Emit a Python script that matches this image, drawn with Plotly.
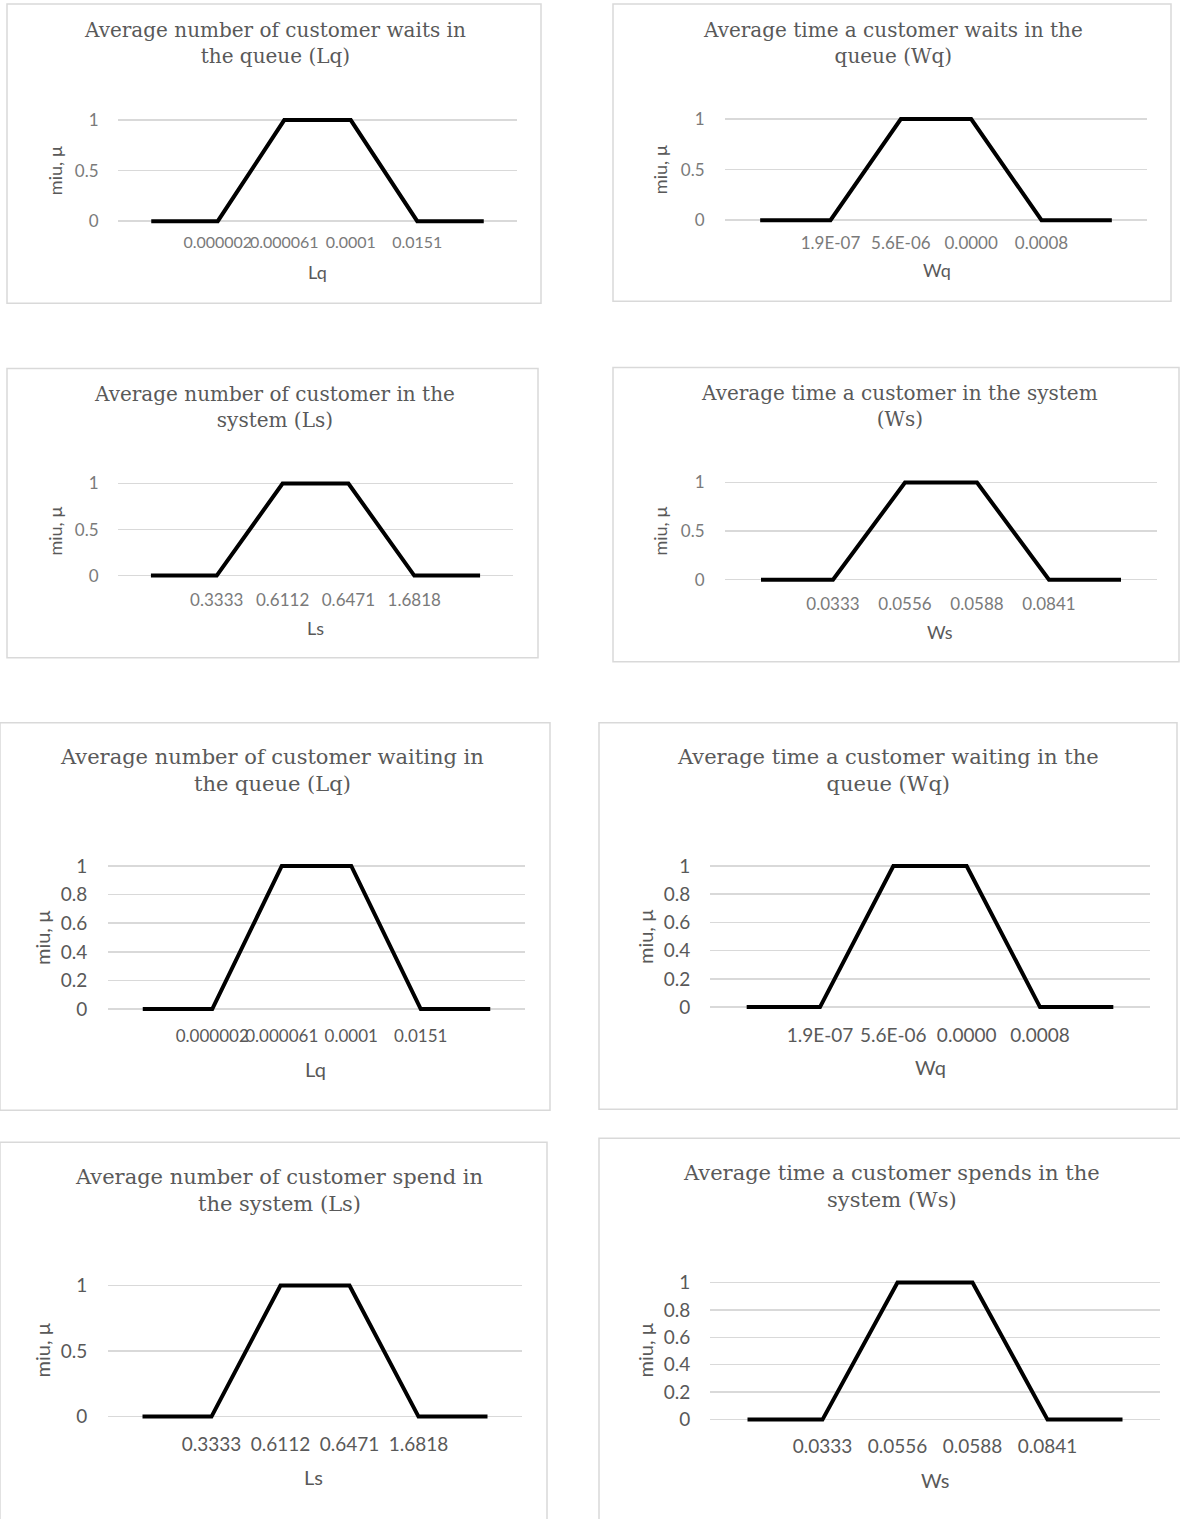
import plotly.graph_objects as go

# ---------------- data ----------------
lq_labels = ["0.000002", "0.000061", "0.0001", "0.0151"]
wq_labels = ["1.9E-07", "5.6E-06", "0.0000", "0.0008"]
ls_labels = ["0.3333", "0.6112", "0.6471", "1.6818"]
ws_labels = ["0.0333", "0.0556", "0.0588", "0.0841"]
mu_values = [0, 0, 1, 1, 0, 0]

titles = [
    ["Average number of customer waits in", "the queue (Lq)"],
    ["Average time a customer waits in the", "queue (Wq)"],
    ["Average number of customer in the", "system (Ls)"],
    ["Average time a customer in the system", "(Ws)"],
    ["Average number of customer waiting in", "the queue (Lq)"],
    ["Average time a customer waiting in the", "queue (Wq)"],
    ["Average number of customer spend in", "the system (Ls)"],
    ["Average time a customer spends in the", "system (Ws)"],
]
x_titles = ["Lq", "Wq", "Ls", "Ws", "Lq", "Wq", "Ls", "Ws"]
x_labels = [lq_labels, wq_labels, ls_labels, ws_labels,
            lq_labels, wq_labels, ls_labels, ws_labels]
y_ticks_half = [0, 0.5, 1]
y_ticks_fifth = [0, 0.2, 0.4, 0.6, 0.8, 1]
y_ticks = [y_ticks_half, y_ticks_half, y_ticks_half, y_ticks_half,
           y_ticks_fifth, y_ticks_fifth, y_ticks_half, y_ticks_fifth]
y_title = "miu, \u00b5"

# ---------------- layout (pixels) ----------------
W, H = 1180, 1519
panels = [
    dict(box=(7, 5, 541, 304), gx=(118, 517), y1=121, y0=222, tc=275, ty=(32, 56), ts=20,
         xt=(317, 273), yt=(55, 171), fs=17, xfs=16, tcol="#7a7a7a", lab=240, yr=100),
    dict(box=(613, 5, 1171, 302), gx=(725, 1147), y1=120, y0=221, tc=893, ty=(32, 56), ts=20,
         xt=(937, 271), yt=(660, 170), fs=17, xfs=17, tcol="#7a7a7a", lab=239, yr=706),
    dict(box=(7, 369, 538, 658), gx=(118, 513), y1=484, y0=576, tc=274, ty=(396, 420), ts=20,
         xt=(315, 628), yt=(55, 531), fs=17, xfs=17, tcol="#7a7a7a", lab=596, yr=100),
    dict(box=(613, 368, 1179, 662), gx=(725, 1157), y1=483, y0=580, tc=899, ty=(395, 419), ts=20,
         xt=(940, 632), yt=(660, 531), fs=17, xfs=17, tcol="#7a7a7a", lab=600, yr=706),
    dict(box=(0, 723, 550, 1110), gx=(108, 525), y1=866, y0=1009, tc=272, ty=(756, 786), ts=21,
         xt=(315, 1069), yt=(42, 938), fs=19, xfs=17, tcol="#595959", lab=1032, yr=89),
    dict(box=(599, 723, 1177, 1109), gx=(710, 1150), y1=866, y0=1007, tc=888, ty=(756, 786), ts=21,
         xt=(930, 1067), yt=(645, 937), fs=19, xfs=19, tcol="#595959", lab=1031, yr=692),
    dict(box=(0, 1142, 547, 1525), gx=(108, 522), y1=1285, y0=1416, tc=279, ty=(1176, 1205), ts=21,
         xt=(313, 1476), yt=(42, 1350), fs=19, xfs=19, tcol="#595959", lab=1439, yr=89),
    dict(box=(599, 1138, 1185, 1525), gx=(710, 1160), y1=1282, y0=1419, tc=891, ty=(1172, 1201), ts=21,
         xt=(935, 1479), yt=(645, 1350), fs=19, xfs=19, tcol="#595959", lab=1441, yr=692),
]

# the photographed page comes out slightly squeezed vertically; compensate
SY, BY = 0.99293, 6.03


def py(t):
    return (t - BY) / SY


TXT = "#595959"
GRID = "#d9d9d9"
PAD = 0.06

fig = go.Figure()
shapes = []
annotations = []

for i, p in enumerate(panels):
    n = i + 1
    xa = "x" if n == 1 else f"x{n}"
    ya = "y" if n == 1 else f"y{n}"
    labels = [""] + x_labels[i] + [""]
    xs = list(range(len(labels)))

    fig.add_trace(go.Scatter(
        x=xs, y=mu_values, mode="lines",
        line=dict(color="black", width=4),
        xaxis=xa, yaxis=ya, showlegend=False, hoverinfo="skip"))

    y1p, y0p = py(p["y1"]), py(p["y0"])
    h = y0p - y1p
    top = y1p - PAD * h
    bot = y0p + PAD * h
    xdom = [p["gx"][0] / W, p["gx"][1] / W]
    ydom = [1 - bot / H, 1 - top / H]

    lab_len = max(0, int(round(py(p["lab"]) - bot - 2 - 0.55 * p["xfs"])))
    y_len = max(0, int(round(p["gx"][0] - p["yr"] - 3)))

    xkey = "xaxis" if n == 1 else f"xaxis{n}"
    ykey = "yaxis" if n == 1 else f"yaxis{n}"
    fig.layout[xkey] = dict(
        domain=xdom, anchor=ya, range=[-0.5, len(labels) - 0.5],
        tickmode="array", tickvals=xs, ticktext=labels, tickangle=0,
        showgrid=False, zeroline=False, showline=False,
        ticks="outside", ticklen=lab_len, tickcolor="rgba(0,0,0,0)",
        tickfont=dict(family="Lato", size=p["xfs"], color=p["tcol"]),
        fixedrange=True)
    fig.layout[ykey] = dict(
        domain=ydom, anchor=xa, range=[-PAD, 1 + PAD],
        tickmode="array", tickvals=y_ticks[i], ticktext=[f"{v:g}" for v in y_ticks[i]],
        showgrid=True, gridcolor=GRID, gridwidth=1.5, zeroline=False, showline=False,
        ticks="outside", ticklen=y_len, tickcolor="rgba(0,0,0,0)",
        tickfont=dict(family="Lato", size=p["fs"], color=p["tcol"]),
        fixedrange=True)

    x0, y0b, x1, y1b = p["box"]
    shapes.append(dict(type="rect", xref="paper", yref="paper",
                       x0=x0 / W, x1=x1 / W, y0=1 - py(y1b) / H, y1=1 - py(y0b) / H,
                       line=dict(color=GRID, width=1.5), fillcolor="rgba(0,0,0,0)", layer="below"))

    tmid = py((p["ty"][0] + p["ty"][1]) / 2)
    annotations.append(dict(text="<br>".join(titles[i]), x=p["tc"] / W, y=1 - tmid / H,
                            xref="paper", yref="paper", xanchor="center", yanchor="middle",
                            showarrow=False, align="center",
                            font=dict(family="DejaVu Serif", size=p["ts"], color=TXT)))
    annotations.append(dict(text=x_titles[i], x=p["xt"][0] / W, y=1 - py(p["xt"][1]) / H,
                            xref="paper", yref="paper", xanchor="center", yanchor="middle",
                            showarrow=False, font=dict(family="Lato", size=p["fs"] + 1, color=TXT)))
    annotations.append(dict(text=y_title, x=p["yt"][0] / W, y=1 - py(p["yt"][1]) / H,
                            xref="paper", yref="paper", xanchor="center", yanchor="middle",
                            textangle=-90, showarrow=False,
                            font=dict(family="Lato", size=p["fs"] + 1, color=TXT)))

fig.update_layout(
    width=W, height=H, margin=dict(l=0, r=0, t=0, b=0),
    paper_bgcolor="white", plot_bgcolor="white",
    shapes=shapes, annotations=annotations, showlegend=False)

fig.write_html(
    "out.html",
    config={"displayModeBar": False, "staticPlot": True},
    post_script=(
        "document.documentElement.style.margin='0';"
        "document.body.style.margin='0';document.body.style.padding='0';"
        "document.documentElement.style.overflow='hidden';document.body.style.overflow='hidden';"
        "var d=document.getElementsByClassName('plotly-graph-div')[0];"
        "d.style.position='fixed';d.style.top='0px';d.style.left='0px';"
    ))
